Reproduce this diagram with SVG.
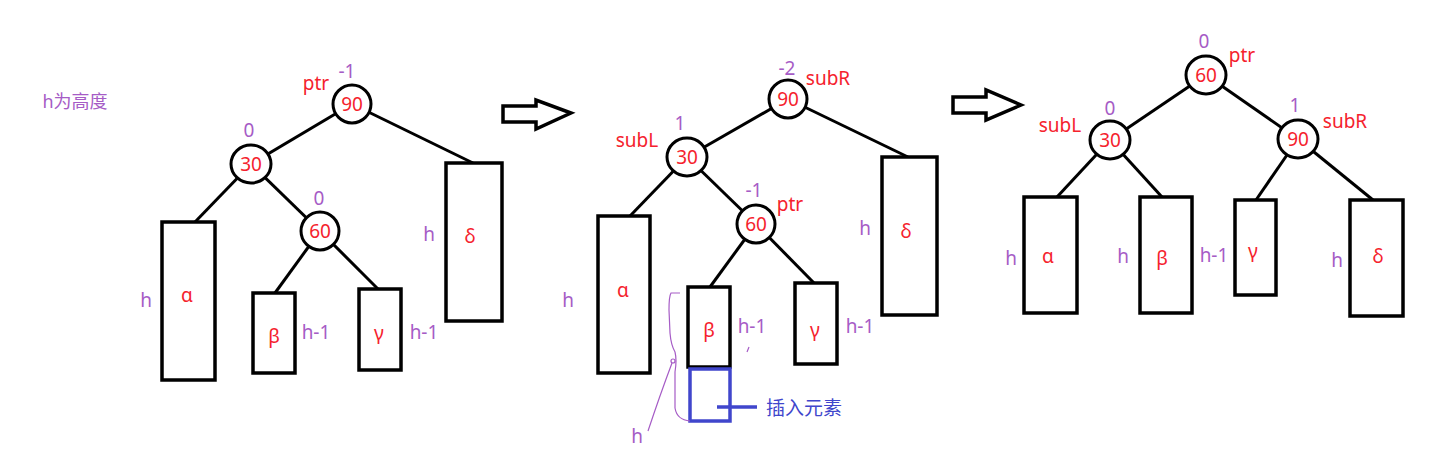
<svg xmlns="http://www.w3.org/2000/svg" width="1454" height="470" viewBox="0 0 1454 470">
<style>
text{font-family:"Noto Sans","Noto Sans CJK SC",sans-serif;font-size:19px;text-anchor:middle}
.r{fill:#f5222d}
.p{fill:#a65cc6}
.b{fill:#4046cc}
.nd{fill:#fff;stroke:#000;stroke-width:3}
.bx{fill:#fff;stroke:#000;stroke-width:3.5}
.ln{stroke:#000;stroke-width:3;fill:none}
.ar{fill:#fff;stroke:#000;stroke-width:3.5;stroke-linejoin:miter}
</style>
<rect width="1454" height="470" fill="#fff"/>
<text class="p" x="75" y="108" style="font-size:18px">h为高度</text>

<g id="connectors">
<line class="ln" x1="352" y1="104" x2="251" y2="164"/>
<line class="ln" x1="352" y1="104" x2="473" y2="163"/>
<line class="ln" x1="251" y1="164" x2="195" y2="222"/>
<line class="ln" x1="251" y1="164" x2="320" y2="231"/>
<line class="ln" x1="320" y1="231" x2="275" y2="293"/>
<line class="ln" x1="320" y1="231" x2="378" y2="289"/>

<line class="ln" x1="788" y1="99" x2="687" y2="157"/>
<line class="ln" x1="788" y1="99" x2="908" y2="157"/>
<line class="ln" x1="687" y1="157" x2="630" y2="216"/>
<line class="ln" x1="687" y1="157" x2="756" y2="224"/>
<line class="ln" x1="756" y1="224" x2="710" y2="287"/>
<line class="ln" x1="756" y1="224" x2="814" y2="283"/>

<line class="ln" x1="1206" y1="75" x2="1110" y2="140"/>
<line class="ln" x1="1206" y1="75" x2="1298" y2="139"/>
<line class="ln" x1="1110" y1="140" x2="1057" y2="197"/>
<line class="ln" x1="1110" y1="140" x2="1162" y2="197"/>
<line class="ln" x1="1298" y1="139" x2="1256" y2="200"/>
<line class="ln" x1="1298" y1="139" x2="1373" y2="200"/>
</g>

<g id="arrow1"><path class="ar" d="M503,106 L536,106 L536,100 L571,113 L536,129 L536,122 L503,122 Z"/></g>
<g id="arrow2"><path class="ar" d="M953,97 L986,97 L986,90 L1021,105 L986,120 L986,113 L953,113 Z"/></g>

<!-- Diagram 1 -->
<g id="d1-n90"><ellipse class="nd" cx="352" cy="104" rx="19" ry="19"/><text class="r" x="352" y="111">90</text><text class="r" x="316" y="90">ptr</text><text class="p" x="347" y="78">-1</text></g>
<g id="d1-n30"><ellipse class="nd" cx="251" cy="164" rx="20" ry="19"/><text class="r" x="251" y="171">30</text><text class="p" x="249" y="137">0</text></g>
<g id="d1-n60"><ellipse class="nd" cx="320" cy="231" rx="19" ry="19"/><text class="r" x="320" y="238">60</text><text class="p" x="319" y="205">0</text></g>
<g id="d1-alpha"><rect class="bx" x="162" y="222" width="53" height="158"/><text class="r" x="187" y="302">α</text><text class="p" x="146" y="307">h</text></g>
<g id="d1-beta"><rect class="bx" x="253" y="293" width="42" height="80"/><text class="r" x="274" y="343">β</text><text class="p" x="316" y="339">h-1</text></g>
<g id="d1-gamma"><rect class="bx" x="359" y="289" width="42" height="81"/><text class="r" x="379" y="340">γ</text><text class="p" x="424" y="339">h-1</text></g>
<g id="d1-delta"><rect class="bx" x="446" y="163" width="56" height="158"/><text class="r" x="470" y="243">δ</text><text class="p" x="429" y="241">h</text></g>

<!-- Diagram 2 -->
<g id="d2-n90"><ellipse class="nd" cx="788" cy="99" rx="19" ry="19"/><text class="r" x="788" y="106">90</text><text class="p" x="787" y="75">-2</text><text class="r" x="828" y="85">subR</text></g>
<g id="d2-n30"><ellipse class="nd" cx="687" cy="157" rx="20" ry="19"/><text class="r" x="687" y="164">30</text><text class="p" x="680" y="130">1</text><text class="r" x="637" y="147">subL</text></g>
<g id="d2-n60"><ellipse class="nd" cx="756" cy="224" rx="19" ry="19"/><text class="r" x="756" y="231">60</text><text class="p" x="754" y="197">-1</text><text class="r" x="790" y="211">ptr</text></g>
<g id="d2-alpha"><rect class="bx" x="598" y="216" width="52" height="157"/><text class="r" x="623" y="297">α</text><text class="p" x="568" y="307">h</text></g>
<g id="d2-beta"><rect class="bx" x="688" y="287" width="42" height="80"/><text class="r" x="709" y="337">β</text><text class="p" x="752" y="333">h-1</text></g>
<g id="d2-gamma"><rect class="bx" x="795" y="283" width="42" height="81"/><text class="r" x="815" y="337">γ</text><text class="p" x="860" y="333">h-1</text></g>
<g id="d2-delta"><rect class="bx" x="882" y="157" width="55" height="158"/><text class="r" x="906" y="238">δ</text><text class="p" x="865" y="235">h</text></g>
<g id="d2-insert"><rect x="690" y="369" width="40" height="52" fill="none" stroke="#4046cc" stroke-width="3.5"/><line x1="717" y1="407" x2="757" y2="407" stroke="#4046cc" stroke-width="3.5"/><text class="b" x="804" y="415">插入元素</text></g>
<g id="d2-brace" fill="none" stroke="#a65cc6" stroke-width="1.2"><path d="M680,293 L671,293 Q669,296 669,310 L670,333 Q671,345 675,352 Q677,360 675,372 L675,408 Q677,420 690,421"/><circle cx="673" cy="361" r="2"/><path d="M672,363 Q660,395 648,431"/><path d="M749,347 L747,352"/><text class="p" x="637" y="443" stroke="none">h</text></g>

<!-- Diagram 3 -->
<g id="d3-n60"><ellipse class="nd" cx="1206" cy="75" rx="20" ry="19"/><text class="r" x="1206" y="82">60</text><text class="p" x="1204" y="48">0</text><text class="r" x="1242" y="62">ptr</text></g>
<g id="d3-n30"><ellipse class="nd" cx="1110" cy="140" rx="20" ry="19"/><text class="r" x="1110" y="147">30</text><text class="p" x="1110" y="115">0</text><text class="r" x="1060" y="132">subL</text></g>
<g id="d3-n90"><ellipse class="nd" cx="1298" cy="139" rx="20" ry="19"/><text class="r" x="1298" y="146">90</text><text class="p" x="1295" y="112">1</text><text class="r" x="1345" y="128">subR</text></g>
<g id="d3-alpha"><rect class="bx" x="1024" y="197" width="53" height="116"/><text class="r" x="1048" y="263">α</text><text class="p" x="1011" y="265">h</text></g>
<g id="d3-beta"><rect class="bx" x="1140" y="197" width="52" height="116"/><text class="r" x="1162" y="265">β</text><text class="p" x="1123" y="263">h</text></g>
<g id="d3-gamma"><rect class="bx" x="1235" y="200" width="41" height="95"/><text class="r" x="1253" y="258">γ</text><text class="p" x="1214" y="262">h-1</text></g>
<g id="d3-delta"><rect class="bx" x="1350" y="200" width="53" height="116"/><text class="r" x="1378" y="263">δ</text><text class="p" x="1337" y="267">h</text></g>
</svg>
